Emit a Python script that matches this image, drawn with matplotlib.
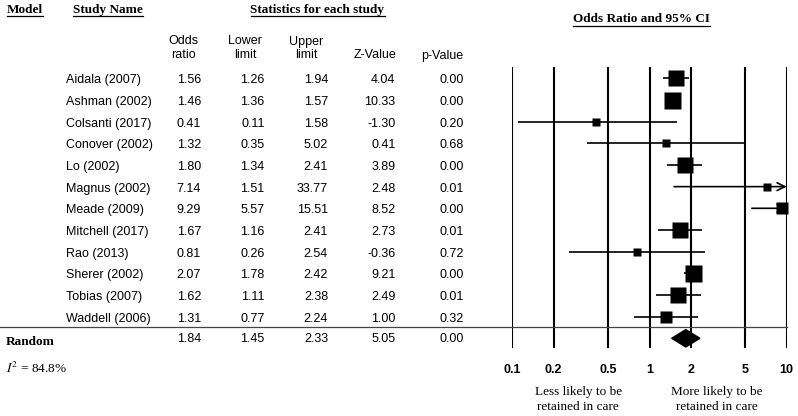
import matplotlib

matplotlib.use("Agg")
import matplotlib.pyplot as plt
from matplotlib.lines import Line2D
from matplotlib.patches import Polygon
from matplotlib.transforms import blended_transform_factory

# --- data ------------------------------------------------------------------
studies = [
    "Aidala (2007)", "Ashman (2002)", "Colsanti (2017)", "Conover (2002)",
    "Lo (2002)", "Magnus (2002)", "Meade (2009)", "Mitchell (2017)",
    "Rao (2013)", "Sherer (2002)", "Tobias (2007)", "Waddell (2006)",
]
odds_ratio = [1.56, 1.46, 0.41, 1.32, 1.80, 7.14, 9.29, 1.67, 0.81, 2.07, 1.62, 1.31]
lower = [1.26, 1.36, 0.11, 0.35, 1.34, 1.51, 5.57, 1.16, 0.26, 1.78, 1.11, 0.77]
upper = [1.94, 1.57, 1.58, 5.02, 2.41, 33.77, 15.51, 2.41, 2.54, 2.42, 2.38, 2.24]
z_value = [4.04, 10.33, -1.30, 0.41, 3.89, 2.48, 8.52, 2.73, -0.36, 9.21, 2.49, 1.00]
p_value = [0.00, 0.00, 0.20, 0.68, 0.00, 0.01, 0.00, 0.01, 0.72, 0.00, 0.01, 0.32]
# relative weights (%)
weights = [12.2, 13.7, 3.0, 3.0, 10.7, 3.0, 8.0, 10.7, 3.0, 13.7, 10.7, 8.0]

summary_label = "Random"
summary_or, summary_lo, summary_hi = 1.84, 1.45, 2.33
summary_z, summary_p = 5.05, 0.00
i_squared = 84.8

ticks = [0.1, 0.2, 0.5, 1, 2, 5, 10]
tick_labels = ["0.1", "0.2", "0.5", "1", "2", "5", "10"]

SANS = "Liberation Sans"
SERIF = "Liberation Serif"
plt.rcParams["mathtext.fontset"] = "stix"

W, H = 798, 416
fig = plt.figure(figsize=(W / 100, H / 100), dpi=100)


def fx(px):
    return px / W


def fy(py):
    return 1 - py / H


# forest panel: 0.1 .. 10 on a log scale
ax = fig.add_axes([fx(512.3), fy(347.7), (786.7 - 512.3) / W, (347.7 - 67.3) / H])
ax.set_xscale("log")
ax.set_xlim(0.1, 10)
n = len(studies)
ax.set_ylim(n + 0.434, -0.508)
for s in ax.spines.values():
    s.set_visible(False)
ax.set_yticks([])
ax.set_xticks(ticks, labels=tick_labels)
ax.minorticks_off()
ax.tick_params(axis="x", length=0, pad=12)
for lab in ax.get_xticklabels():
    lab.set_fontfamily(SANS)
    lab.set_fontweight("bold")
    lab.set_fontsize(9)

for t in ticks:
    ax.axvline(t, color="black", lw=1.5, zorder=1)

xmax = ax.get_xlim()[1]
for i in range(n):
    hi = min(upper[i], xmax)
    if upper[i] > xmax:
        ax.annotate("", xy=(xmax, i), xytext=(lower[i], i),
                    arrowprops=dict(arrowstyle="->", lw=1.2, color="black",
                                    shrinkA=0, shrinkB=0, mutation_scale=14),
                    annotation_clip=False)
    else:
        ax.hlines(i, lower[i], hi, color="black", lw=1.2, zorder=2)
    side = 17 * (weights[i] / 13.7) ** 0.5  # px
    ax.plot(odds_ratio[i], i, "s", ms=side * 72 / 100, color="black",
            mec="none", zorder=3, clip_on=False)

ax.add_patch(Polygon(
    [(summary_lo, n), (summary_or, n - 0.4), (summary_hi, n), (summary_or, n + 0.4)],
    closed=True, color="black", zorder=3))

# table on the left, rows share the panel's y scale
row = blended_transform_factory(fig.transFigure, ax.transData)
dy = 0.1  # text sits a touch below the box centres
col_right = [201, 264.5, 328, 395.5, 464]
for i in range(n):
    ax.text(fx(66), i + dy, studies[i], transform=row, ha="left", va="center",
            family=SANS, fontsize=9)
    vals = [odds_ratio[i], lower[i], upper[i], z_value[i], p_value[i]]
    for x, v in zip(col_right, vals):
        ax.text(fx(x), i + dy, f"{v:.2f}", transform=row, ha="right", va="center",
                family=SANS, fontsize=9)

ax.text(fx(6), n + 0.15, summary_label, transform=row, ha="left", va="center",
        family=SERIF, fontsize=9.5, fontweight="bold")
for x, v in zip(col_right, [summary_or, summary_lo, summary_hi, summary_z, summary_p]):
    ax.text(fx(x), n + dy * 0.5, f"{v:.2f}", transform=row, ha="right", va="center",
            family=SANS, fontsize=9)

fig.add_artist(Line2D([0, fx(786.7)], [n - 0.5, n - 0.5], transform=row,
                      color="#444444", lw=0.9))

fig.text(fx(6), fy(368), f"$I^2$ = {i_squared:.1f}%", family=SERIF,
         fontsize=9.5, ha="left", va="center")

# column headers
col_heads = [("Odds", "ratio", 183.5), ("Lower", "limit", 245.2),
             ("Upper", "limit", 306.4), ("", "Z-Value", 374.7), ("", "p-Value", 442.2)]
for top, bot, x in col_heads:
    if top:
        fig.text(fx(x), fy(44.5), top, ha="center", va="baseline", family=SANS, fontsize=9)
    fig.text(fx(x), fy(58.5), bot, ha="center", va="baseline", family=SANS, fontsize=9)

heads = [
    fig.text(fx(7), fy(10), "Model", ha="left", va="center",
             family=SERIF, fontsize=9.5, fontweight="bold"),
    fig.text(fx(73), fy(10), "Study Name", ha="left", va="center",
             family=SERIF, fontsize=9.5, fontweight="bold"),
    fig.text(fx(317.5), fy(10), "Statistics for each study", ha="center", va="center",
             family=SERIF, fontsize=9.5, fontweight="bold"),
    fig.text(fx(641.5), fy(19.5), "Odds Ratio and 95% CI", ha="center", va="center",
             family=SERIF, fontsize=9.5, fontweight="bold"),
]
under_y = [15.8, 15.8, 15.8, 25.5]

fig.text(fx(578.3), fy(392), "Less likely to be", ha="center", va="center",
         family=SERIF, fontsize=9.5)
fig.text(fx(578.3), fy(406.5), "retained in care", ha="center", va="center",
         family=SERIF, fontsize=9.5)
fig.text(fx(717.2), fy(392), "More likely to be", ha="center", va="center",
         family=SERIF, fontsize=9.5)
fig.text(fx(717.2), fy(406.5), "retained in care", ha="center", va="center",
         family=SERIF, fontsize=9.5)

# underline the bold headers
renderer = fig.canvas.get_renderer()
for t, uy in zip(heads, under_y):
    bb = t.get_window_extent(renderer)
    fig.add_artist(Line2D([bb.x0 / W, bb.x1 / W], [fy(uy), fy(uy)],
                          transform=fig.transFigure, color="black", lw=0.9))

fig.savefig("out.png", dpi=100)
